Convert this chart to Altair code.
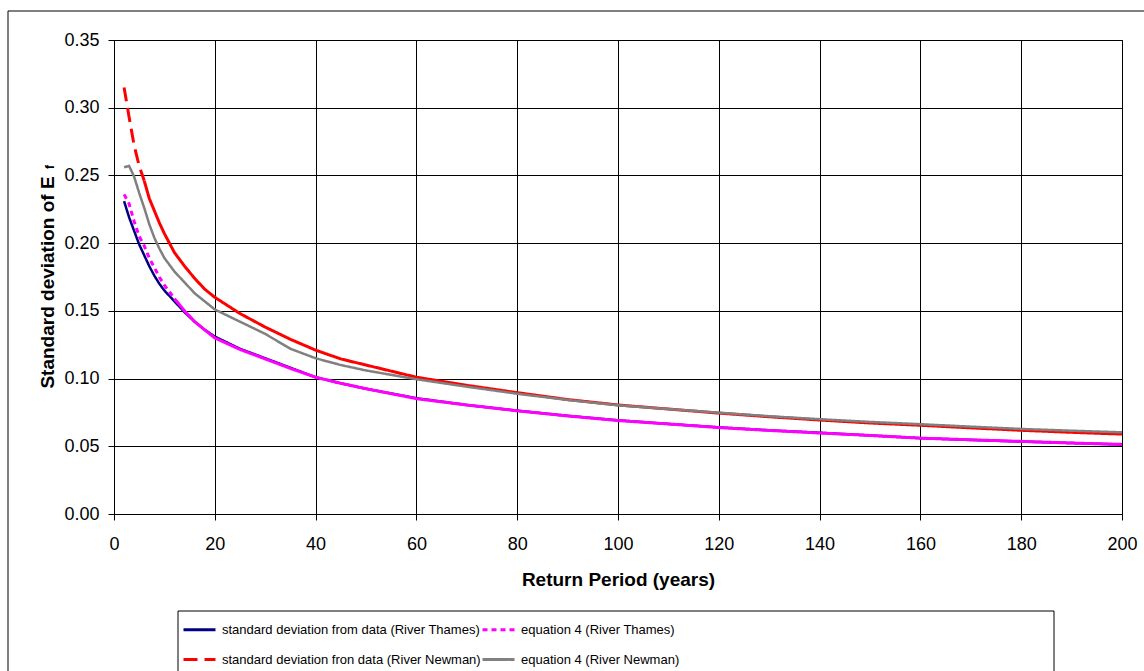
import altair as alt
import pandas as pd

# Return period (years) at which each curve is sampled
return_period = [2, 3, 4, 5, 6, 7, 8, 9, 10, 12, 14, 16, 18, 20, 25, 30, 35, 40, 45, 50,
                 60, 70, 80, 90, 100, 110, 120, 130, 140, 150, 160, 170, 180, 190, 200]

# Standard deviation of E_f for each series
sd_thames_data = [0.231, 0.219, 0.209, 0.199, 0.191, 0.183, 0.176, 0.170, 0.165, 0.157,
                  0.149, 0.142, 0.136, 0.131, 0.122, 0.115, 0.108, 0.101, 0.0965, 0.0925,
                  0.0855, 0.0805, 0.0763, 0.0725, 0.0692, 0.0665, 0.0640, 0.0618, 0.0600,
                  0.0580, 0.0560, 0.0547, 0.0535, 0.0524, 0.0513]
sd_thames_eq4 = [0.236, 0.229, 0.216, 0.205, 0.198, 0.189, 0.182, 0.175, 0.169, 0.159,
                 0.150, 0.142, 0.136, 0.130, 0.1215, 0.1145, 0.1075, 0.1010, 0.0965, 0.0925,
                 0.0852, 0.0805, 0.0762, 0.0724, 0.0690, 0.0665, 0.0638, 0.0617, 0.0598,
                 0.0580, 0.0560, 0.0548, 0.0536, 0.0524, 0.0514]
sd_newman_data = [0.315, 0.293, 0.272, 0.257, 0.246, 0.233, 0.224, 0.215, 0.207, 0.193,
                  0.183, 0.174, 0.166, 0.160, 0.148, 0.138, 0.129, 0.121, 0.1145, 0.110,
                  0.101, 0.095, 0.0896, 0.0845, 0.0805, 0.0775, 0.0745, 0.0718, 0.0694,
                  0.0672, 0.0655, 0.0636, 0.0618, 0.0603, 0.0590]
sd_newman_eq4 = [0.256, 0.257, 0.249, 0.237, 0.226, 0.214, 0.204, 0.196, 0.189, 0.179,
                 0.171, 0.163, 0.157, 0.151, 0.142, 0.133, 0.122, 0.115, 0.110, 0.106,
                 0.0995, 0.0940, 0.0888, 0.0842, 0.0803, 0.0775, 0.0748, 0.0722, 0.0700,
                 0.0680, 0.0663, 0.0645, 0.0628, 0.0615, 0.0603]

THAMES_DATA = "standard deviation from data (River Thames)"
THAMES_EQ4 = "equation 4 (River Thames)"
NEWMAN_DATA = "standard deviation fron data (River Newman)"
NEWMAN_EQ4 = "equation 4 (River Newman)"

# drawing order
series_names = [THAMES_DATA, THAMES_EQ4, NEWMAN_DATA, NEWMAN_EQ4]
series_values = [sd_thames_data, sd_thames_eq4, sd_newman_data, sd_newman_eq4]
series_widths = [2.5, 3, 3, 2.5]
# the dash pattern only shows on the steep first stretch; the rest reads as solid
dash_until = [200, 12, 6, 200]

# legend order (two columns, filled column by column)
legend_names = [THAMES_DATA, NEWMAN_DATA, THAMES_EQ4, NEWMAN_EQ4]
legend_colors = ["#000080", "#FF0000", "#FF00FF", "#808080"]
legend_dashes = [[1, 0], [14, 7], [5, 4], [1, 0]]

y_ticks = [0.0, 0.05, 0.10, 0.15, 0.20, 0.25, 0.30, 0.35]
x_ticks = [0, 20, 40, 60, 80, 100, 120, 140, 160, 180, 200]

rows = []
for name, vals, cut in zip(series_names, series_values, dash_until):
    for x, y in zip(return_period, vals):
        if x <= cut:
            rows.append({"series": name, "x": x, "y": y, "seg": "head"})
        if x >= cut:
            rows.append({"series": name, "x": x, "y": y, "seg": "tail"})
df = pd.DataFrame(rows)

legend = alt.Legend(
    title=None, orient="none", legendX=68, legendY=572, columns=2,
    symbolType="stroke", symbolSize=1024, symbolStrokeWidth=3,
    labelFont="Liberation Sans", labelFontSize=13,
    labelColor="black", labelOffset=5, labelLimit=500,
    columnPadding=-5, rowPadding=5, padding=0,
)

x_enc = alt.X("x:Q", scale=alt.Scale(domain=[0, 200], nice=False),
              axis=alt.Axis(values=x_ticks, title="Return Period (years)",
                            titleY=71, titleBaseline="alphabetic", labelPadding=15,
                            labelFlush=False))
y_enc = alt.Y("y:Q", scale=alt.Scale(domain=[0, 0.35], nice=False),
              axis=alt.Axis(values=y_ticks, format=".2f",
                            title="Standard deviation of E", titleAngle=270,
                            titleX=-61, titleY=242, titleBaseline="alphabetic",
                            labelPadding=9, labelFlush=False))
color_enc = alt.Color("series:N", scale=alt.Scale(domain=legend_names, range=legend_colors),
                      legend=legend)
dash_enc = alt.StrokeDash("series:N", scale=alt.Scale(domain=legend_names, range=legend_dashes),
                          legend=legend)

base = alt.Chart(df)
frame_df = pd.DataFrame({"k": [0]})
layers = []
# outer frame: top and left edges (the rest runs off the page)
layers.append(alt.Chart(frame_df).mark_rule(color="black", strokeWidth=1).encode(
    x=alt.value(-106), x2=alt.value(1040), y=alt.value(-29)))
layers.append(alt.Chart(frame_df).mark_rule(color="black", strokeWidth=1).encode(
    x=alt.value(-106), y=alt.value(-29), y2=alt.value(640)))
# legend frame
layers.append(alt.Chart(frame_df).mark_rect(filled=False, stroke="black", strokeWidth=1).encode(
    x=alt.value(64), x2=alt.value(940), y=alt.value(571), y2=alt.value(640)))

for name, w, cut in zip(series_names, series_widths, dash_until):
    head = base.transform_filter(
        (alt.datum.series == name) & (alt.datum.seg == "head")
    ).mark_line(strokeWidth=w, strokeCap="butt", clip=True).encode(
        x=x_enc, y=y_enc, color=color_enc, strokeDash=dash_enc, order="x:Q")
    layers.append(head)
    if cut < 200:
        tail = base.transform_filter(
            (alt.datum.series == name) & (alt.datum.seg == "tail")
        ).mark_line(strokeWidth=w, clip=True).encode(
            x=x_enc, y=y_enc, color=color_enc, strokeDash=alt.value([1, 0]), order="x:Q")
        layers.append(tail)

# subscript f of the y-axis title
layers.append(alt.Chart(frame_df).mark_text(
    text="f", angle=270, font="Liberation Sans", fontSize=12, fontWeight="bold",
    align="center", baseline="alphabetic", color="black").encode(
    x=alt.value(-60), y=alt.value(127)))

chart = alt.layer(*layers).properties(
    width=1008, height=474,
    autosize=alt.AutoSizeParams(type="none"),
    padding={"left": 114, "top": 40, "right": 22, "bottom": 157},
    background="white",
).configure_view(stroke="black", strokeWidth=1).configure_axis(
    labelFont="Liberation Sans", labelFontSize=18, labelColor="black",
    titleFont="Liberation Sans", titleFontSize=19, titleFontWeight="bold", titleColor="black",
    tickColor="black", tickSize=6, domainColor="black", gridColor="black",
    gridOpacity=1, gridWidth=1,
)

chart.save("out.html", embed_options={"renderer": "svg", "actions": False})
